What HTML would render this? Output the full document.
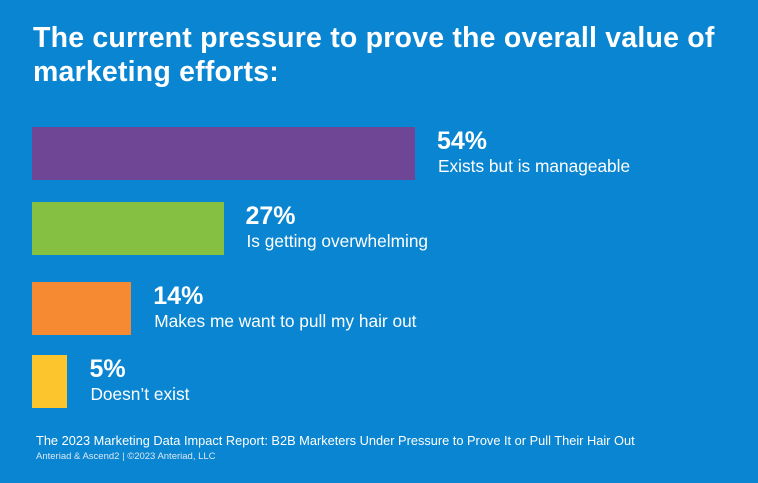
<!DOCTYPE html>
<html><head><meta charset="utf-8"><style>
body{margin:0;width:758px;height:483px;background:#0985d1;font-family:"Liberation Sans",sans-serif;color:#fff;overflow:hidden;position:relative}
.t{position:absolute;left:33px;top:21px;font-size:28.5px;font-weight:bold;line-height:34px;letter-spacing:0.2px}
.bar{position:absolute;left:32px}
.pct{position:absolute;font-size:25px;font-weight:bold;line-height:26px}
.lab{position:absolute;font-size:17.3px;line-height:20px}
.f1{position:absolute;left:36px;top:433px;font-size:12.8px}
.f2{position:absolute;left:36px;top:451px;font-size:9.5px;color:#dbe9f6}
</style></head><body>
<div class="t">The current pressure to prove the overall value of<br>marketing efforts:</div>
<div id="chart"></div>
<div class="f1">The 2023 Marketing Data Impact Report: B2B Marketers Under Pressure to Prove It or Pull Their Hair Out</div>
<div class="f2">Anteriad &amp; Ascend2 | ©2023 Anteriad, LLC</div>
<script>
const categories=["Exists but is manageable","Is getting overwhelming","Makes me want to pull my hair out","Doesn’t exist"];
const values=[54,27,14,5];
const colors=["#6f4696","#85c043","#f58a32","#fdc52d"];
const tops=[127,202,282,355];
const scale=383/54;
const chart=document.getElementById('chart');
values.forEach((v,i)=>{
  const w=v*scale, y=tops[i];
  const b=document.createElement('div');
  b.className='bar';
  
  
  b.style.cssText=`top:${y}px;width:${w}px;height:53px;background:${colors[i]}`;
  chart.appendChild(b);
  const p=document.createElement('div');
  p.className='pct';
  
  
  p.style.left=(32+w+22)+'px';p.style.top=(y+1)+'px';
  p.textContent=v+'%';
  chart.appendChild(p);
  const l=document.createElement('div');
  l.className='lab';
  
  
  l.style.left=(32+w+23)+'px';l.style.top=(y+29)+'px';
  l.textContent=categories[i];
  chart.appendChild(l);
});
</script>
</body></html>
